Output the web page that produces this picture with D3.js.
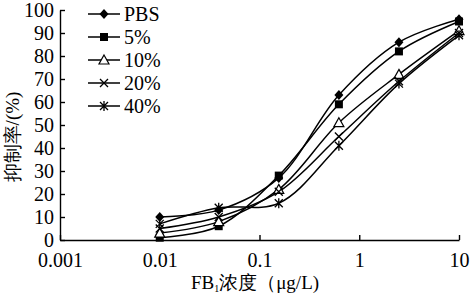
<!DOCTYPE html>
<html>
<head>
<style>
    body { margin: 0; background: #fff; }
    text { font-family: "Liberation Serif", "DejaVu Serif", serif; fill: #000; }
</style>
</head>
<body>
<script src="https://d3js.org/d3.v7.min.js"></script>
<svg width="472" height="297"></svg>
<script>
    // concentrations (ug/L) and inhibition rates (%)
    var conc = [0.01, 0.039, 0.156, 0.625, 2.5, 10];
    var pbs = [10, 13, 27, 63, 86, 96];
    var p5 = [1, 6, 28, 59, 82, 95];
    var p10 = [3, 8, 22, 51, 72, 91];
    var p20 = [5, 10, 21, 45, 69, 90];
    var p40 = [7, 14, 16, 41, 68, 89];
    var seriesNames = ["PBS", "5%", "10%", "20%", "40%"];
    var seriesSymbols = ["diamond", "square", "triangle", "cross", "star"];
    var xTicks = [0.001, 0.01, 0.1, 1, 10];
    var xTickLabels = ["0.001", "0.01", "0.1", "1", "10"];
    var yTicks = [0, 10, 20, 30, 40, 50, 60, 70, 80, 90, 100];

    var allSeries = [pbs, p5, p10, p20, p40];

    var svg = d3.select("svg");
    var x = d3.scaleLog().domain([0.001, 10]).range([60, 459]);
    var y = d3.scaleLinear().domain([0, 100]).range([240, 10]);

    // axes
    var xAxis = svg.append("g").attr("transform", "translate(0,240)")
        .call(d3.axisBottom(x).tickValues(xTicks).tickSizeInner(-5).tickSizeOuter(0)
            .tickFormat(function(d, i) { return xTickLabels[i]; }));
    xAxis.selectAll("text").attr("dy", null).attr("y", 27).style("font-size", "20px")
        .style("font-family", "Liberation Serif");
    var yAxis = svg.append("g").attr("transform", "translate(60,0)")
        .call(d3.axisLeft(y).tickValues(yTicks).tickSizeInner(-5).tickSizeOuter(0));
    yAxis.selectAll("text").attr("x", -6).style("font-size", "20px")
        .style("font-family", "Liberation Serif");
    svg.selectAll(".domain, .tick line").attr("stroke", "#000").attr("stroke-width", 1.4);

    var line = d3.line()
        .x(function(d, i) { return x(conc[i]); })
        .y(function(d) { return y(d); })
        .curve(d3.curveCatmullRom.alpha(0.5));

    function marker(g, type, cx, cy) {
        if (type === "diamond") {
            g.append("path").attr("d", "M" + cx + "," + (cy - 5) + "L" + (cx + 4.5) + "," + cy +
                "L" + cx + "," + (cy + 5) + "L" + (cx - 4.5) + "," + cy + "Z").attr("fill", "#000");
        } else if (type === "square") {
            g.append("rect").attr("x", cx - 4).attr("y", cy - 4).attr("width", 8).attr("height", 8)
                .attr("fill", "#000");
        } else if (type === "triangle") {
            g.append("path").attr("d", "M" + cx + "," + (cy - 5) + "L" + (cx + 5) + "," + (cy + 4) +
                "L" + (cx - 5) + "," + (cy + 4) + "Z").attr("fill", "#fff").attr("stroke", "#000")
                .attr("stroke-width", 1.2);
        } else if (type === "cross") {
            g.append("path").attr("d", "M" + (cx - 4) + "," + (cy - 4) + "L" + (cx + 4) + "," + (cy + 4) +
                "M" + (cx + 4) + "," + (cy - 4) + "L" + (cx - 4) + "," + (cy + 4))
                .attr("stroke", "#000").attr("stroke-width", 1.3);
        } else {
            g.append("path").attr("d", "M" + (cx - 4) + "," + (cy - 4) + "L" + (cx + 4) + "," + (cy + 4) +
                "M" + (cx + 4) + "," + (cy - 4) + "L" + (cx - 4) + "," + (cy + 4) +
                "M" + cx + "," + (cy - 5) + "L" + cx + "," + (cy + 5))
                .attr("stroke", "#000").attr("stroke-width", 1.3);
        }
    }

    allSeries.forEach(function(vals, s) {
        svg.append("path").datum(vals).attr("d", line)
            .attr("fill", "none").attr("stroke", "#000").attr("stroke-width", 1.5);
    });
    allSeries.forEach(function(vals, s) {
        var g = svg.append("g");
        vals.forEach(function(v, i) { marker(g, seriesSymbols[s], x(conc[i]), y(v)); });
    });

    // legend
    var legend = svg.append("g");
    seriesNames.forEach(function(name, i) {
        var ly = 14 + i * 23;
        legend.append("line").attr("x1", 88).attr("x2", 120).attr("y1", ly).attr("y2", ly)
            .attr("stroke", "#000").attr("stroke-width", 1.5);
        marker(legend, seriesSymbols[i], 104, ly);
        legend.append("text").attr("x", 124).attr("y", ly + 7).style("font-size", "20px").text(name);
    });

    // axis titles
    var xt = svg.append("text").attr("x", 255).attr("y", 289).attr("text-anchor", "middle")
        .style("font-size", "19px");
    xt.append("tspan").text("FB");
    xt.append("tspan").attr("dy", 3).style("font-size", "10px").text("1");
    xt.append("tspan").attr("dy", -3).text("浓度（μg/L)");

    svg.append("text").attr("transform", "translate(19,137) rotate(-90)")
        .attr("text-anchor", "middle").style("font-size", "19px").text("抑制率/(%)");
</script>
</body>
</html>
